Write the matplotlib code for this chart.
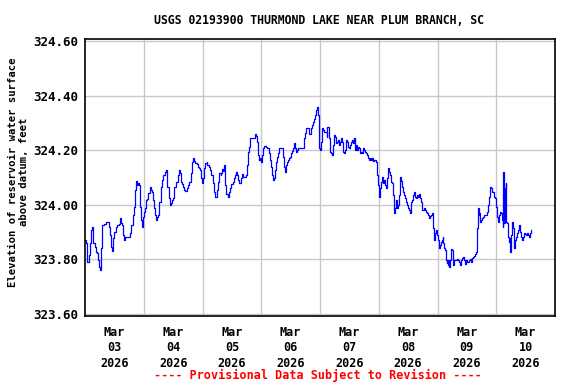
import matplotlib
matplotlib.use("Agg")
import matplotlib.pyplot as plt
import numpy as np
import pandas as pd

# hours since 2026-03-03 00:00 and lake elevation (feet)
hours = [
    0.0, 0.27, 0.68, 0.95, 1.5, 2.04, 2.31, 2.86, 3.13, 3.4, 3.95, 4.36, 4.77, 5.31, 5.86, 6.27,
    6.54, 6.94, 7.76, 8.44, 9.4, 9.67, 10.08, 10.62, 11.03, 11.44, 11.85, 12.53, 12.94, 13.75,
    14.16, 14.57, 14.84, 15.12, 15.52, 15.93, 16.48, 17.02, 17.97, 18.38, 18.93, 19.6, 20.02,
    20.56, 20.97, 21.38, 21.79, 22.06, 22.47, 22.88, 23.15, 23.56, 24.1, 24.51, 24.92, 25.46,
    25.87, 26.42, 26.82, 27.23, 27.64, 28.05, 28.6, 29.0, 29.55, 29.96, 30.37, 30.91, 31.32,
    31.86, 32.54, 33.09, 33.36, 33.63, 34.18, 34.72, 35.13, 35.68, 36.09, 36.36, 37.17, 37.85,
    38.26, 38.67, 39.08, 39.49, 39.9, 40.44, 40.99, 41.53, 42.07, 42.62, 43.16, 43.57, 43.98,
    44.53, 45.07, 45.62, 46.16, 46.71, 47.11, 47.52, 47.93, 48.34,
    48.61, 49.16, 49.7, 49.97, 50.52, 51.06, 51.61, 52.15, 52.56, 52.97, 53.79, 54.06, 54.47,
    54.87, 55.42, 55.69, 56.1, 56.51, 56.78, 57.05, 57.33, 57.74, 58.28, 58.69, 59.23, 59.78,
    60.32, 60.87, 61.28, 61.69, 62.23, 62.64, 63.05, 63.59, 64.0, 64.55, 65.09, 65.64, 66.05,
    66.45, 66.86, 67.41, 68.09, 68.77, 69.32, 69.73, 70.14, 70.55, 70.96, 71.37, 71.77, 72.18,
    72.59, 73.14, 73.82, 74.35, 75.04, 75.45, 75.86, 76.27, 76.68, 77.09, 77.5, 77.9, 78.31,
    78.86, 79.4, 80.08, 80.77, 81.04, 81.45, 81.86, 82.27, 82.68, 83.08, 83.49, 83.9, 84.31,
    84.72, 85.13, 85.54, 85.94, 86.35, 86.76, 87.17, 88.12, 88.94, 89.35, 89.76, 90.17, 90.85,
    91.4, 91.94, 92.35, 92.76, 93.3, 93.71, 94.12, 94.53, 94.94, 95.21, 95.48, 95.76, 96.03,
    96.3, 96.71, 97.12,
    97.63, 98.31, 98.72, 98.99, 99.54, 99.81, 100.08, 100.49, 100.9, 101.31, 101.72, 102.12,
    102.53, 102.94, 103.35, 103.76, 104.17, 104.57, 104.98, 105.39, 105.8, 106.21, 106.62,
    107.03, 107.43, 107.84, 108.25, 108.66, 109.07, 109.48, 109.89, 110.29, 110.7, 111.11,
    111.52, 111.93, 112.34, 112.75, 113.15, 113.56, 113.97, 114.38, 114.79, 115.2, 115.6,
    116.01, 116.42, 116.83, 117.24, 117.65, 118.06, 118.74, 119.15, 119.55, 119.96, 120.37,
    120.78, 121.19, 121.6, 122.0, 122.41, 122.82, 123.23, 123.64, 124.05, 124.46, 124.86,
    125.27, 125.68, 126.09, 126.5, 126.91, 127.31, 127.72, 128.13, 128.54, 128.95, 129.36,
    129.77, 130.17, 130.58, 130.99, 131.4, 131.81, 132.22, 132.63, 133.03, 133.44, 133.85,
    134.26, 134.67, 135.08, 135.48, 135.89, 136.3, 136.71, 137.12, 137.53, 137.94, 138.34,
    138.75, 139.16, 139.57, 139.98, 140.39, 140.8, 141.2, 141.61, 142.02, 142.29, 142.7,
    143.11, 143.52, 143.93, 144.34, 144.75,
    145.02, 145.43, 145.84, 146.11, 146.38, 146.65, 147.06, 147.33, 147.74, 148.02, 148.29,
    148.56, 148.83, 149.24, 149.65, 149.92, 150.19, 150.47, 150.74, 151.15, 151.83, 152.51,
    152.92, 153.19, 153.6, 154.01, 154.42, 154.82, 155.1, 155.5, 155.91, 156.32, 156.73,
    157.14, 157.55, 157.96, 158.36, 158.91, 159.32, 159.73, 160.0, 160.41, 160.82, 161.09,
    161.5, 161.91, 162.31, 162.72, 163.13, 163.54, 163.95, 164.36, 164.76, 165.17, 165.58,
    165.99, 166.4, 166.81, 167.22, 167.62, 168.03, 168.44, 168.85, 169.26, 169.67, 170.08,
    170.35, 170.62, 170.76, 170.89, 171.03, 171.16, 171.3, 171.44, 171.57, 171.71, 171.85,
    171.98, 172.12, 172.25, 172.66, 172.93, 173.21, 173.48, 173.75, 174.02, 174.3, 174.57,
    174.84, 175.11, 175.39, 175.66, 176.07, 176.48, 176.88, 177.29, 177.7, 178.11, 178.52,
    178.93, 179.34, 179.74, 180.15, 180.56, 180.97, 181.38, 181.79, 182.33,
]
elevation = [
    323.870, 323.859, 323.810, 323.792, 323.816, 323.859, 323.908, 323.917, 323.895, 323.859,
    323.847, 323.828, 323.822, 323.798, 323.773, 323.761, 323.841, 323.926, 323.930, 323.938,
    323.938, 323.920, 323.889, 323.847, 323.832, 323.877, 323.902, 323.920, 323.926, 323.930,
    323.950, 323.944, 323.932, 323.926, 323.889, 323.871, 323.883, 323.881, 323.883, 323.895,
    323.926, 323.963, 323.993, 324.054, 324.087, 324.073, 324.079, 324.073, 323.993, 323.944,
    323.920, 323.957, 323.975, 323.987, 324.018, 324.020, 324.042, 324.066, 324.054, 324.048,
    324.018, 323.987, 323.963, 323.944, 323.957, 323.963, 324.011, 324.066, 324.091, 324.109,
    324.119, 324.127, 324.091, 324.066, 324.024, 323.999, 324.005, 324.018, 324.024, 324.066,
    324.085, 324.109, 324.127, 324.115, 324.085, 324.076, 324.066, 324.054, 324.051, 324.060,
    324.073, 324.085, 324.115, 324.158, 324.170, 324.162, 324.154, 324.148, 324.140, 324.134,
    324.127, 324.097, 324.079, 324.097,
    324.134, 324.152, 324.158, 324.146, 324.140, 324.127, 324.109, 324.079, 324.048, 324.030,
    324.030, 324.054, 324.085, 324.115, 324.109, 324.115, 324.131, 324.124, 324.146, 324.127,
    324.073, 324.038, 324.030, 324.048, 324.060, 324.075, 324.082, 324.097, 324.109, 324.119,
    324.109, 324.091, 324.079, 324.097, 324.113, 324.103, 324.103, 324.109, 324.146, 324.192,
    324.211, 324.243, 324.246, 324.246, 324.258, 324.253, 324.231, 324.182, 324.164, 324.170,
    324.158, 324.182, 324.207, 324.217, 324.213, 324.207, 324.189, 324.164, 324.140, 324.109,
    324.091, 324.099, 324.127, 324.158, 324.176, 324.189, 324.207, 324.207, 324.207, 324.176,
    324.140, 324.121, 324.146, 324.158, 324.164, 324.170, 324.176, 324.189, 324.197, 324.207,
    324.225, 324.207, 324.192, 324.201, 324.207, 324.207, 324.209, 324.243, 324.262, 324.280,
    324.280, 324.259, 324.259, 324.280, 324.292, 324.305, 324.314, 324.329, 324.347, 324.357,
    324.329, 324.280, 324.207, 324.201, 324.231, 324.280, 324.274,
    324.268, 324.268, 324.250, 324.286, 324.286, 324.243, 324.195, 324.189, 324.182, 324.219,
    324.256, 324.250, 324.225, 324.231, 324.237, 324.219, 324.231, 324.243, 324.231, 324.195,
    324.189, 324.201, 324.237, 324.231, 324.213, 324.207, 324.219, 324.231, 324.237, 324.225,
    324.243, 324.201, 324.219, 324.201, 324.213, 324.207, 324.189, 324.195, 324.189, 324.207,
    324.201, 324.195, 324.189, 324.182, 324.170, 324.164, 324.170, 324.164, 324.170, 324.160,
    324.164, 324.158, 324.109, 324.073, 324.030, 324.060, 324.085, 324.103, 324.079, 324.091,
    324.073, 324.060, 324.097, 324.136, 324.121, 324.109, 324.085, 324.079, 324.036, 323.969,
    323.987, 324.018, 323.987, 323.999, 324.036, 324.103, 324.087, 324.066, 324.048, 324.036,
    324.024, 324.012, 323.999, 323.987, 323.981, 323.969, 324.012, 324.018, 324.036, 324.048,
    324.030, 324.024, 324.036, 324.030, 324.038, 324.024, 324.012, 323.981, 323.981, 323.987,
    323.981, 323.975, 323.969, 323.963, 323.953, 323.960, 323.963, 323.969, 323.957, 323.914,
    323.871, 323.895, 323.908, 323.889, 323.871, 323.840,
    323.853, 323.865, 323.871, 323.883, 323.859, 323.841, 323.834, 323.798, 323.786, 323.798,
    323.780, 323.798, 323.773, 323.798, 323.837, 323.834, 323.804, 323.780, 323.798, 323.798,
    323.800, 323.798, 323.792, 323.780, 323.798, 323.804, 323.810, 323.798, 323.783, 323.798,
    323.792, 323.789, 323.798, 323.800, 323.792, 323.804, 323.810, 323.813, 323.820, 323.828,
    323.914, 323.987, 323.963, 323.969, 323.938, 323.944, 323.950, 323.957, 323.963, 323.963,
    323.963, 323.975, 323.999, 324.030, 324.066, 324.060, 324.048, 324.048, 324.030, 324.024,
    323.993, 323.957, 323.938, 323.963, 323.975, 323.969, 323.944, 323.920, 323.993, 324.121,
    323.944, 324.030, 323.932, 324.042, 323.969, 324.060, 323.950, 324.079, 323.938, 323.932,
    323.926, 323.883, 323.865, 323.877, 323.828, 323.889, 323.932, 323.938, 323.914, 323.883,
    323.841, 323.871, 323.883, 323.896, 323.908, 323.926, 323.902, 323.883, 323.871, 323.883,
    323.898, 323.893, 323.889, 323.896, 323.889, 323.883, 323.896, 323.908,
]
y_ticks = [323.6, 323.8, 324.0, 324.2, 324.4, 324.6]
day_labels = ["Mar\n03\n2026", "Mar\n04\n2026", "Mar\n05\n2026", "Mar\n06\n2026",
              "Mar\n07\n2026", "Mar\n08\n2026", "Mar\n09\n2026", "Mar\n10\n2026"]

start = pd.Timestamp("2026-03-03")
times = start + pd.to_timedelta(hours, unit="h")

mono = "DejaVu Sans Mono"

fig = plt.figure(figsize=(5.76, 3.84), dpi=100)
ax = fig.add_axes([85 / 576, 1 - 316 / 384, 470 / 576, 277 / 384])

ax.plot(times, elevation, color="#0000ff", linewidth=0.9, drawstyle="steps-post")

ax.set_xlim(start, start + pd.Timedelta(days=8))
ax.set_ylim(323.5927, 324.6073)

midnights = [start + pd.Timedelta(days=d) for d in range(1, 8)]
noons = [start + pd.Timedelta(hours=12 + 24 * d) for d in range(8)]
ax.set_xticks(midnights)
ax.set_xticklabels([""] * len(midnights))
ax.set_xticks(noons, minor=True)
ax.set_xticklabels(day_labels, minor=True, fontfamily=mono, fontweight="bold",
                   fontsize=8.5, linespacing=1.25)
ax.tick_params(axis="x", which="both", length=0, pad=7)

ax.set_yticks(y_ticks)
ax.set_yticklabels(["%.2f" % v for v in y_ticks], fontfamily=mono,
                   fontweight="bold", fontsize=9)
ax.tick_params(axis="y", length=0, pad=5)

ax.grid(which="major", color="#c8c8c8", linewidth=1.0)
ax.set_axisbelow(True)
for s in ax.spines.values():
    s.set_linewidth(1.2)
    s.set_color("black")

fig.text(318.5 / 576, 1 - 20 / 384, "USGS 02193900 THURMOND LAKE NEAR PLUM BRANCH, SC",
         ha="center", va="center", fontfamily=mono, fontweight="bold", fontsize=8.3)
fig.text(18.5 / 576, 1 - 172 / 384,
         "Elevation of reservoir water surface\nabove datum, feet",
         rotation=90, ha="center", va="center", multialignment="center",
         fontfamily=mono, fontweight="bold", fontsize=7.6, linespacing=1.15)
fig.text(318 / 576, 1 - 375 / 384, "---- Provisional Data Subject to Revision ----",
         ha="center", va="center", color="#ff0000", fontfamily=mono,
         fontweight="bold", fontsize=8.5)

fig.savefig("out.png", dpi=100)
